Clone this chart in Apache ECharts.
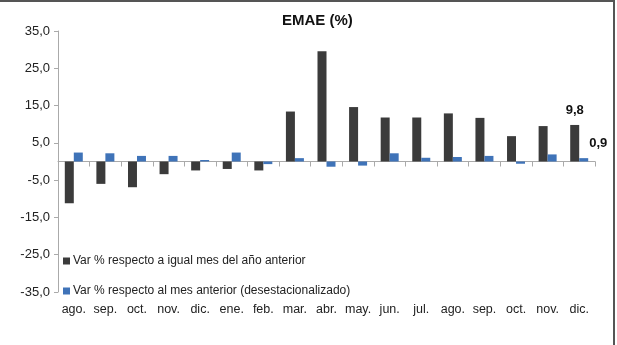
<!DOCTYPE html>
<html>
<head>
<meta charset="utf-8">
<script src="https://cdn.jsdelivr.net/npm/echarts@6/dist/echarts.min.js"></script>
<style>
html,body{margin:0;padding:0;background:#fff;}
#chart{width:617px;height:345px;}
</style>
</head>
<body>
<div id="chart"></div>
<script>
const categories = ['ago.','sep.','oct.','nov.','dic.','ene.','feb.','mar.','abr.','may.','jun.','jul.','ago.','sep.','oct.','nov.','dic.'];
const interanual = [-11.2,-6.0,-6.9,-3.4,-2.4,-2.0,-2.4,13.4,29.6,14.6,11.8,11.8,12.9,11.7,6.8,9.5,9.8];
const mensual = [2.4,2.2,1.5,1.5,0.4,2.4,-0.7,0.9,-1.4,-1.1,2.2,1.0,1.2,1.5,-0.6,1.9,0.9];
const seriesNames = ['Var % respecto a igual mes del año anterior','Var % respecto al mes anterior (desestacionalizado)'];
const titleText = 'EMAE (%)';
</script>
<script>
const fmt = v => v.toFixed(1).replace('.', ',');
const last = categories.length - 1;
const font = 'Liberation Sans, Arial, sans-serif';
const darkData = interanual.map((v, i) => i === last ? {value: v, label: {show: true, position: 'top', distance: 8, formatter: p => fmt(p.value), fontWeight: 'bold', fontSize: 13, color: '#111', fontFamily: font}} : v);
const blueData = mensual.map((v, i) => i === last ? {value: v, label: {show: true, position: 'right', offset: [-4, -16], formatter: p => fmt(p.value), fontWeight: 'bold', fontSize: 13, color: '#111', fontFamily: font}} : v);
const chart = echarts.init(document.getElementById('chart'), null, {renderer: 'canvas'});
chart.setOption({
  animation: false,
  backgroundColor: '#fff',
  title: {text: titleText, left: 277, top: 8, textStyle: {fontFamily: font, fontWeight: 'bold', fontSize: 15, color: '#111'}},
  grid: {left: 58, right: 22, top: 31, bottom: 53, containLabel: false},
  legend: {
    orient: 'vertical', left: 63, top: 255, padding: 0, itemGap: 18, itemWidth: 7, itemHeight: 7,
    icon: 'rect', data: seriesNames,
    textStyle: {fontFamily: font, fontSize: 12, color: '#222', padding: [0, 0, 0, -2]}
  },
  xAxis: [
    {type: 'category', data: categories, axisLine: {onZero: true, lineStyle: {color: '#aaa'}},
     axisTick: {show: true, length: 5, interval: 0, lineStyle: {color: '#aaa'}}, axisLabel: {show: false}},
    {type: 'category', data: categories, position: 'bottom', offset: 0,
     axisLine: {show: false}, axisTick: {show: false},
     axisLabel: {show: true, interval: 0, margin: 11, fontFamily: font, fontSize: 12.5, color: '#222'}}
  ],
  yAxis: {
    type: 'value', min: -35, max: 35, interval: 10,
    axisLine: {show: true, lineStyle: {color: '#aaa'}},
    axisTick: {show: true, length: 4, lineStyle: {color: '#aaa'}},
    splitLine: {show: false},
    axisLabel: {formatter: fmt, fontFamily: font, fontSize: 13, color: '#222', margin: 8}
  },
  series: [
    {name: seriesNames[0], type: 'bar', data: darkData, barWidth: 9, barGap: '0%', itemStyle: {color: '#3b3b3b'}},
    {name: seriesNames[1], type: 'bar', data: blueData, barWidth: 9, barGap: '0%', itemStyle: {color: '#3f73b8'}}
  ],
  graphic: [
    {type: 'line', shape: {x1: 0, y1: 1, x2: 615, y2: 1}, style: {stroke: '#555', lineWidth: 2}},
    {type: 'line', shape: {x1: 614, y1: 0, x2: 614, y2: 345}, style: {stroke: '#555', lineWidth: 2}}
  ]
});
</script>
</body>
</html>
